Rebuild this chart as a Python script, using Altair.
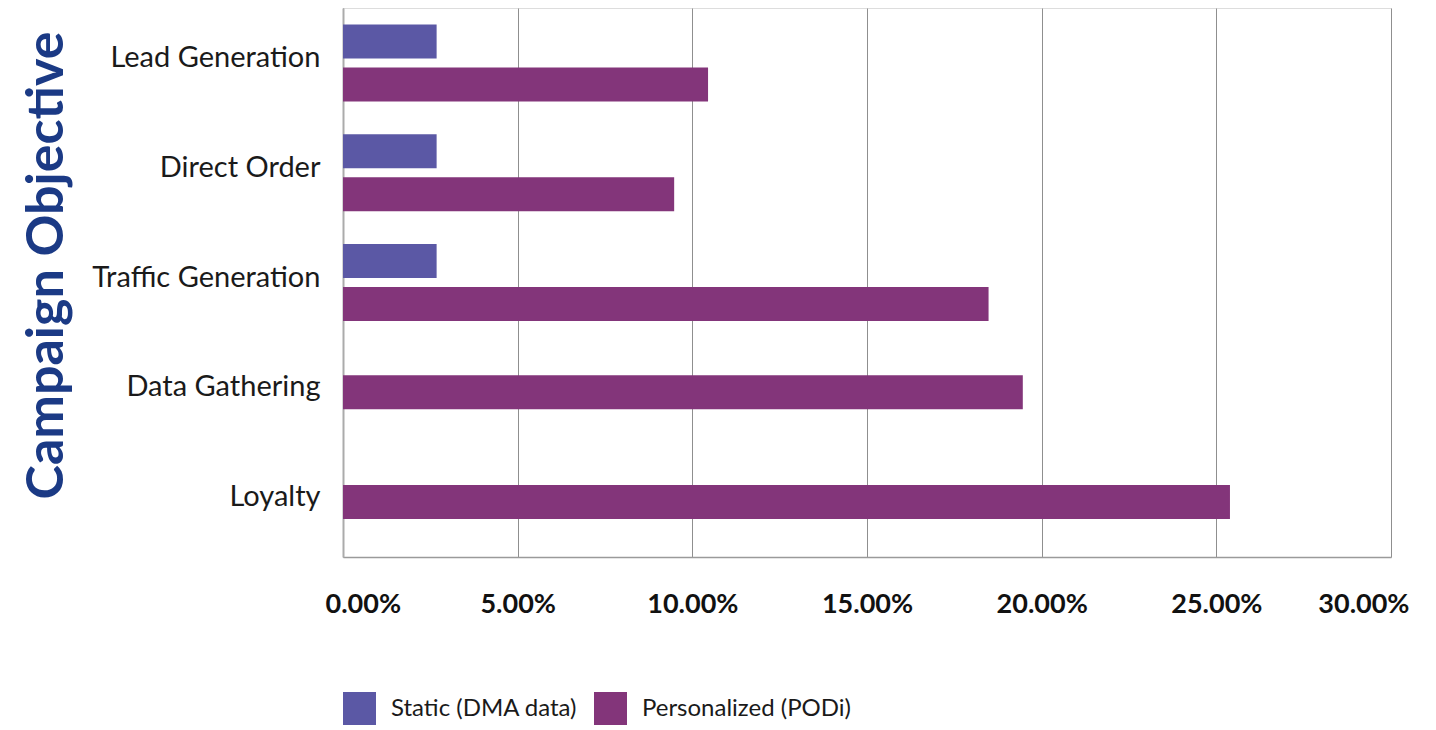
import altair as alt
import pandas as pd

categories = ["Lead Generation", "Direct Order", "Traffic Generation", "Data Gathering", "Loyalty"]
static_vals = [0.0268, 0.0268, 0.0268, None, None]
personal_vals = [0.1045, 0.0948, 0.1848, 0.1946, 0.2539]
series_names = ["Static (DMA data)", "Personalized (PODi)"]
series_colors = ["#5B58A5", "#83357A"]
x_ticks = [0.0, 0.05, 0.10, 0.15, 0.20, 0.25, 0.30]

rows = []
for c, s, p in zip(categories, static_vals, personal_vals):
    has_static = s is not None
    if has_static:
        rows.append({"category": c, "series": series_names[0], "value": s, "paired": True})
    rows.append({"category": c, "series": series_names[1], "value": p, "paired": has_static})
df = pd.DataFrame(rows)

FONT = "Lato"

x_enc = alt.X(
    "value:Q",
    scale=alt.Scale(domain=[0, 0.30], nice=False, zero=True),
    axis=alt.Axis(
        values=x_ticks, format=".2%", title=None, grid=True, gridColor="#8f8f8f", gridWidth=1,
        domain=True, domainColor="#9a9a9a", domainWidth=1.5, ticks=False,
        labelPadding=34, labelFontSize=27, labelFontWeight="bold", labelColor="#111111",
        labelFont=FONT, labelFlush=True, labelFlushOffset=18,
    ),
)
y_enc = alt.Y(
    "category:N",
    sort=categories,
    scale=alt.Scale(domain=categories, paddingInner=0, paddingOuter=0),
    axis=alt.Axis(
        title="Campaign Objective", titleFont=FONT, titleFontSize=52, titleFontWeight="bold",
        titleColor="#1b3a85", titleAngle=-90, titleX=-297, titleY=257, titleAlign="center",
        titleBaseline="middle", titleLimit=0,
        domain=True, domainColor="#ababab", domainWidth=2, ticks=False, grid=False,
        labelPadding=23, labelFontSize=29, labelColor="#1a1a1a", labelFont=FONT,
        labelLimit=0, labelBaseline="middle", labelOffset=-5,
    ),
)
color_enc = alt.Color(
    "series:N",
    scale=alt.Scale(domain=series_names, range=series_colors),
    legend=alt.Legend(
        title=None, orient="none", legendX=0, legendY=684, direction="horizontal",
        symbolType="square", symbolSize=1089, symbolStrokeWidth=0, symbolOpacity=1,
        labelFont=FONT, labelFontSize=24, labelColor="#1a1a1a", labelOffset=15, labelLimit=0,
        columnPadding=16, padding=0,
    ),
)

base = alt.Chart(df).encode(x=x_enc, y=y_enc, color=color_enc)

static_layer = base.transform_filter(
    alt.datum.series == series_names[0]
).mark_bar(size=34, yOffset=-21.5)

paired_layer = base.transform_filter(
    (alt.datum.series == series_names[1]) & (alt.datum.paired == True)
).mark_bar(size=34, yOffset=21.5)

single_layer = base.transform_filter(
    (alt.datum.series == series_names[1]) & (alt.datum.paired == False)
).mark_bar(size=34)

chart = alt.layer(static_layer, paired_layer, single_layer).properties(
    width=1048, height=549,
    padding={"left": 12, "top": 0, "right": 0, "bottom": 0},
).configure_view(stroke=None).configure(background="white")

chart.save("out.html", embed_options={"renderer": "svg", "actions": False})
